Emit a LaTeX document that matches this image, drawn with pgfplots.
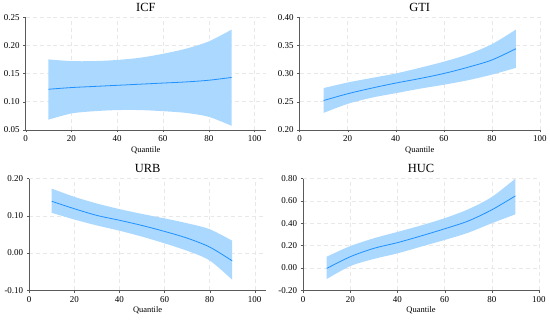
\documentclass[border=0pt]{standalone}
\usepackage{pgfplots}
\pgfplotsset{compat=1.18}
\usepgfplotslibrary{fillbetween}
\usepackage{fontspec}
\setmainfont{Liberation Serif}
\definecolor{bandc}{RGB}{170,216,255}
\definecolor{linec}{RGB}{30,144,255}
\definecolor{axc}{RGB}{90,90,90}
\pgfplotsset{
  qstyle/.style={
    scale only axis,
    axis x line=bottom, axis y line=left,
    axis line style={-, axc},
    tick align=outside, major tick length=2.5pt,
    tick style={axc},
    xtick={0,20,...,100},
    grid=major, major grid style={dash pattern=on 4pt off 3pt, black!9},
    ticklabel style={font=\fontsize{9}{10}\selectfont},
    /pgf/number format/assume math mode=true,
    yticklabel style={/pgf/number format/fixed, /pgf/number format/fixed zerofill, /pgf/number format/precision=2},
    xlabel={Quantile}, xlabel style={font=\fontsize{8.5}{9}\selectfont, yshift=2pt},
    title style={font=\fontsize{12.5}{13}\selectfont, yshift=-4pt},
    xmin=0,
  },
  myband/.style={fill=bandc, draw=none},
  myline/.style={linec, line width=0.8pt, smooth},
  myedge/.style={draw=none, smooth, forget plot},
}
\begin{document}
\begin{tikzpicture}
% ICF
\begin{axis}[qstyle, at={(25.7pt,-130pt)}, anchor=south west, width=241.3pt, height=113pt,
  xmax=105, ymin=0.05, ymax=0.25, ytick={0.05,0.10,0.15,0.20,0.25}, title={ICF}]
\addplot[myedge, name path=u1] coordinates {(10,0.175)(20,0.172)(30,0.172)(40,0.174)(50,0.178)(60,0.185)(70,0.194)(80,0.207)(90,0.228)};
\addplot[myedge, name path=l1] coordinates {(10,0.068)(20,0.079)(30,0.083)(40,0.085)(50,0.085)(60,0.083)(70,0.080)(80,0.073)(90,0.057)};
\addplot[myband] fill between[of=u1 and l1];
\addplot[myline] coordinates {(10,0.122)(20,0.125)(30,0.127)(40,0.129)(50,0.131)(60,0.133)(70,0.135)(80,0.138)(90,0.143)};
\end{axis}
% GTI
\begin{axis}[qstyle, at={(300.7pt,-130pt)}, anchor=south west, width=241.3pt, height=113pt,
  xmax=100, ymin=0.20, ymax=0.40, ytick={0.20,0.25,0.30,0.35,0.40}, title={GTI}]
\addplot[myedge, name path=u2] coordinates {(10,0.274)(20,0.284)(30,0.292)(40,0.300)(50,0.310)(60,0.321)(70,0.334)(80,0.352)(90,0.378)};
\addplot[myedge, name path=l2] coordinates {(10,0.230)(20,0.246)(30,0.257)(40,0.265)(50,0.273)(60,0.280)(70,0.288)(80,0.298)(90,0.310)};
\addplot[myband] fill between[of=u2 and l2];
\addplot[myline] coordinates {(10,0.252)(20,0.264)(30,0.274)(40,0.283)(50,0.291)(60,0.300)(70,0.311)(80,0.324)(90,0.344)};
\end{axis}
% URB
\begin{axis}[qstyle, at={(29.3pt,-291pt)}, anchor=south west, width=237.7pt, height=112pt,
  xmax=105, ymin=-0.10, ymax=0.20, ytick={-0.10,0.00,0.10,0.20}, title={URB}]
\addplot[myedge, name path=u3] coordinates {(10,0.173)(20,0.151)(30,0.133)(40,0.118)(50,0.105)(60,0.093)(70,0.080)(80,0.064)(90,0.033)};
\addplot[myedge, name path=l3] coordinates {(10,0.108)(20,0.090)(30,0.074)(40,0.060)(50,0.044)(60,0.026)(70,0.006)(80,-0.020)(90,-0.072)};
\addplot[myband] fill between[of=u3 and l3];
\addplot[myline] coordinates {(10,0.139)(20,0.119)(30,0.101)(40,0.088)(50,0.074)(60,0.058)(70,0.040)(80,0.016)(90,-0.021)};
\end{axis}
% HUC
\begin{axis}[qstyle, at={(304.3pt,-291pt)}, anchor=south west, width=236.7pt, height=112pt,
  xmax=100, ymin=-0.20, ymax=0.80, ytick={-0.20,0.00,0.20,0.40,0.60,0.80}, title={HUC}]
\addplot[myedge, name path=u4] coordinates {(10,0.10)(20,0.195)(30,0.265)(40,0.322)(50,0.38)(60,0.445)(70,0.525)(80,0.635)(90,0.80)};
\addplot[myedge, name path=l4] coordinates {(10,-0.10)(20,0.016)(30,0.08)(40,0.13)(50,0.19)(60,0.25)(70,0.315)(80,0.40)(90,0.48)};
\addplot[myband] fill between[of=u4 and l4];
\addplot[myline] coordinates {(10,-0.005)(20,0.10)(30,0.175)(40,0.226)(50,0.286)(60,0.35)(70,0.42)(80,0.52)(90,0.645)};
\end{axis}
\path (0pt,0pt) rectangle (550pt,-322pt);
\end{tikzpicture}
\end{document}
